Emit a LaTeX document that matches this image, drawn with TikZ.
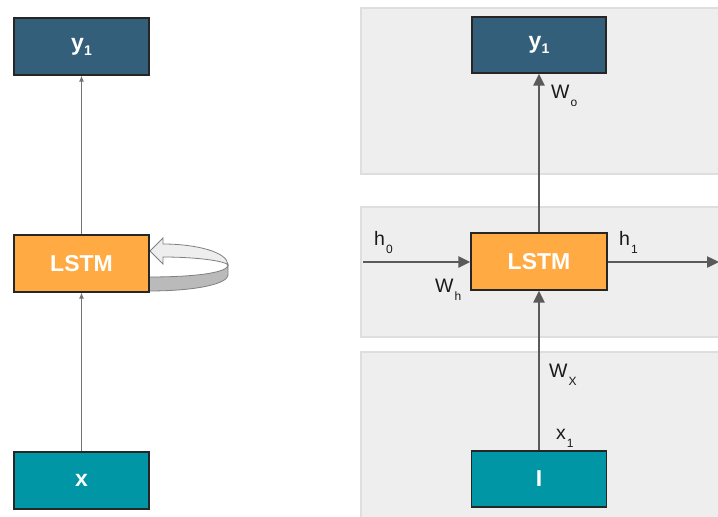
\documentclass[tikz,border=0pt]{standalone}
\usepackage{fontspec}
\setmainfont{Liberation Sans}
\usetikzlibrary{arrows.meta}
\definecolor{dblue}{HTML}{345F7A}
\definecolor{teal1}{HTML}{0096A6}
\definecolor{orng}{HTML}{FFAA42}
\definecolor{panelfill}{HTML}{EEEEEE}
\definecolor{panelline}{HTML}{DEDEDE}
\definecolor{arrowgray}{HTML}{5A5A5A}
\newcommand{\mysub}[2]{#1\hspace{1pt}\raisebox{-8pt}{\fontsize{12}{12}\selectfont #2}}
\tikzset{
  box/.style={draw=black!85, line width=1.2pt, minimum width=135pt, minimum height=57pt, inner sep=0pt,
    text=white, font=\fontsize{23}{23}\selectfont\bfseries},
  thinarrow/.style={draw=black!55, line width=1pt, -{Latex[length=6pt,width=5pt]}},
  thickarrow/.style={draw=arrowgray, line width=2.4pt, -{Triangle[length=12pt,width=11pt]}},
  lbl/.style={anchor=base west, inner sep=0pt, font=\fontsize{19.5}{20}\selectfont, text=black!90},
  panel/.style={fill=panelfill, draw=panelline, line width=1.5pt}
}
\begin{document}
\begin{tikzpicture}[x=1pt,y=-1pt]
\useasboundingbox (0,0) rectangle (718,517);
\fill[white] (0,0) rectangle (718,517);
% panels
\path[panel] (361,8) rectangle (725,174);
\path[panel] (361,207) rectangle (725,337);
\path[panel] (361,352) rectangle (725,525);
% left column
% recurrent loop
\path[fill=black!27, draw=black!50, line width=0.8pt]
  (148,277) .. controls (200,277) and (228,272) .. (228,265)
  -- (228,275) .. controls (228,283) and (200,291) .. (148,291) -- cycle;
\path[fill=panelfill, draw=black!50, line width=0.8pt]
  (163,244) .. controls (196,244) and (228,252) .. (228,265)
  .. controls (226,261) and (196,257) .. (163,257)
  -- (163,264) -- (150,251) -- (163,238) -- cycle;
\node[box, fill=dblue] (ly) at (81.5,46.5) {y\raisebox{-5pt}{\fontsize{14}{14}\selectfont 1}};
\node[box, fill=orng] (ll) at (81.5,263.5) {LSTM};
\node[box, fill=teal1] (lx) at (81.5,480.5) {x};
\draw[thinarrow] (lx) -- (ll);
\draw[thinarrow] (ll) -- (ly);
% right column
\node[box, fill=dblue, minimum width=134pt, minimum height=56pt] (ry) at (539,45) {y\raisebox{-5pt}{\fontsize{14}{14}\selectfont 1}};
\node[box, fill=orng, minimum width=136pt] (rl) at (539,261.5) {LSTM};
\node[box, fill=teal1, minimum height=56pt] (ri) at (539,479) {I};
\coordinate (hin) at (363,262);
\coordinate (hout) at (719,262);
\draw[thickarrow] (ri) -- (rl);
\draw[thickarrow] (rl) -- (ry);
\draw[thickarrow] (hin) -- (rl.west |- hin);
\draw[thickarrow] (rl.east |- hout) -- (hout);
% labels
\node[lbl] (h0) at (374,245) {\mysub{h}{0}};
\node[lbl] (h1) at (619,245) {\mysub{h}{1}};
\node[lbl] (wh) at (435,292) {\mysub{W}{h}};
\node[lbl] (wo) at (551,98) {\mysub{W}{o}};
\node[lbl] (wx) at (549,377) {\mysub{W}{X}};
\node[lbl] (x1) at (556,439) {\mysub{x}{1}};
\end{tikzpicture}
\end{document}
